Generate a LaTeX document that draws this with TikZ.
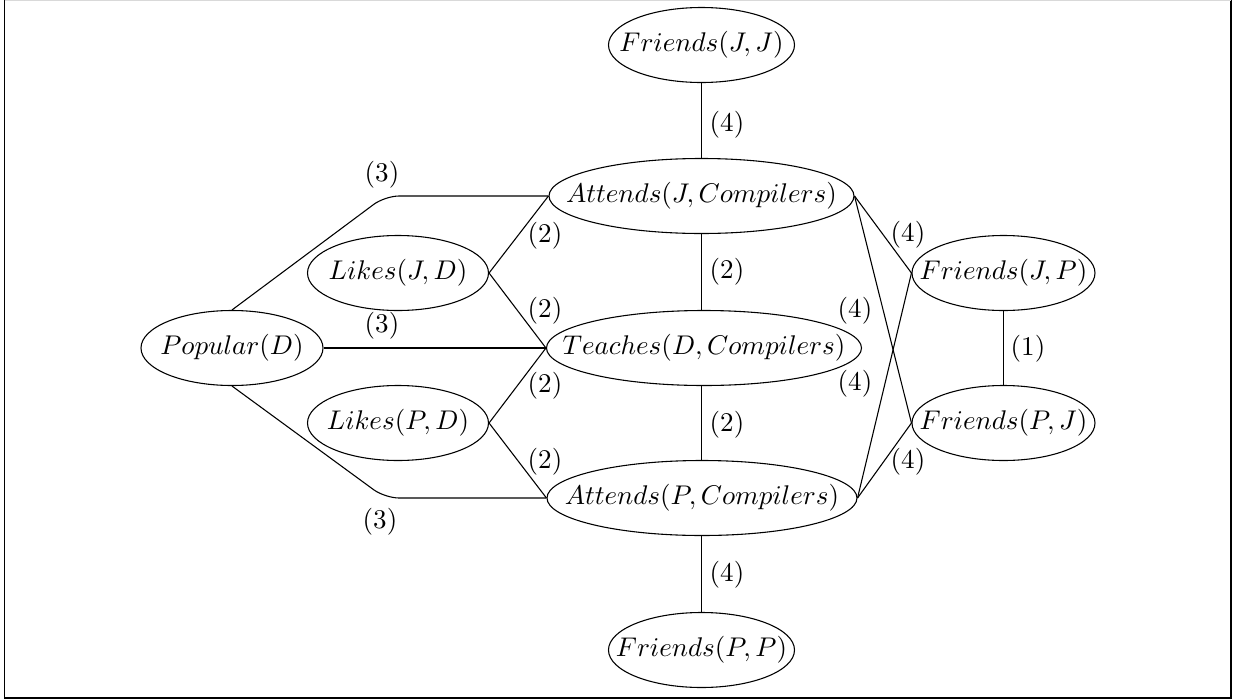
\documentclass[tikz,border=0pt]{standalone}
\usetikzlibrary{shapes.geometric}
\def\pxu{0.37}
\begin{document}
\begin{tikzpicture}[x=\pxu pt, y=-\pxu pt,
  ell/.style={draw, ellipse, inner xsep=-25pt, inner ysep=-10pt,
              minimum height=\pxu*75pt},
  edge/.style={draw, line width=0.4pt},
  lbl/.style={inner sep=0pt}]
\useasboundingbox (0,0) rectangle (1235,700);
% frame
\draw[line width=0.6pt] (4.5,0) -- (4.5,698) -- (1231,698) -- (1231,0);
\draw[line width=0.6pt, black!15] (4.5,0.4) -- (1231,0.4);

% atoms
\node[ell, minimum width=\pxu*186pt] (fjj) at (701.5,45)  {$Friends(J,J)$};
\node[ell, minimum width=\pxu*305pt] (ajc) at (701.5,196) {$Attends(J,Compilers)$};
\node[ell, minimum width=\pxu*315pt] (tdc) at (704,348) {$Teaches(D,Compilers)$};
\node[ell, minimum width=\pxu*310pt] (apc) at (702,498) {$Attends(P,Compilers)$};
\node[ell, minimum width=\pxu*186pt] (fpp) at (701.5,650) {$Friends(P,P)$};
\node[ell, minimum width=\pxu*181pt] (ljd) at (398,273) {$Likes(J,D)$};
\node[ell, minimum width=\pxu*181pt] (lpd) at (398,423) {$Likes(P,D)$};
\node[ell, minimum width=\pxu*182pt] (pop) at (232,348) {$Popular(D)$};
\node[ell, minimum width=\pxu*183pt] (fjp) at (1003.5,273) {$Friends(J,P)$};
\node[ell, minimum width=\pxu*183pt] (fpj) at (1003.5,423) {$Friends(P,J)$};

% corners of the outer Popular links
\coordinate (cu) at (385,196);
\coordinate (cd) at (385,498);

% connectors
\draw[edge, rounded corners=\pxu*14pt] (pop.north) -- (cu) -- (ajc.west);
\draw[edge] (pop.east) -- (tdc.west);
\draw[edge, rounded corners=\pxu*14pt] (pop.south) -- (cd) -- (apc.west);
\draw[edge] (ljd.east) -- (ajc.west);
\draw[edge] (ljd.east) -- (tdc.west);
\draw[edge] (lpd.east) -- (tdc.west);
\draw[edge] (lpd.east) -- (apc.west);
\draw[edge] (fjj.south) -- (fjj.south |- ajc.north);
\draw[edge] (ajc.south) -- (ajc.south |- tdc.north);
\draw[edge] (ajc.south |- tdc.south) -- (ajc.south |- apc.north);
\draw[edge] (ajc.south |- apc.south) -- (ajc.south |- fpp.north);
\draw[edge] (ajc.east) -- (fjp.west);
\draw[edge] (ajc.east) -- (fpj.west);
\draw[edge] (apc.east) -- (fjp.west);
\draw[edge] (apc.east) -- (fpj.west);
\draw[edge] (fjp.south) -- (fpj.north);

% weights
\node[lbl] (w1)  at (382,175) {(3)};
\node[lbl] (w2)  at (382,326) {(3)};
\node[lbl] (w3)  at (380,522) {(3)};
\node[lbl] (w4)  at (545,236) {(2)};
\node[lbl] (w5)  at (545,311) {(2)};
\node[lbl] (w6)  at (545,386) {(2)};
\node[lbl] (w7)  at (545,462) {(2)};
\node[lbl] (w8)  at (727,125) {(4)};
\node[lbl] (w9)  at (727,272) {(2)};
\node[lbl] (w10) at (727,425) {(2)};
\node[lbl] (w11) at (727,575) {(4)};
\node[lbl] (w12) at (908,235) {(4)};
\node[lbl] (w13) at (855,311) {(4)};
\node[lbl] (w14) at (855,384) {(4)};
\node[lbl] (w15) at (908,462) {(4)};
\node[lbl] (w16) at (1028,349) {(1)};
\end{tikzpicture}
\end{document}
